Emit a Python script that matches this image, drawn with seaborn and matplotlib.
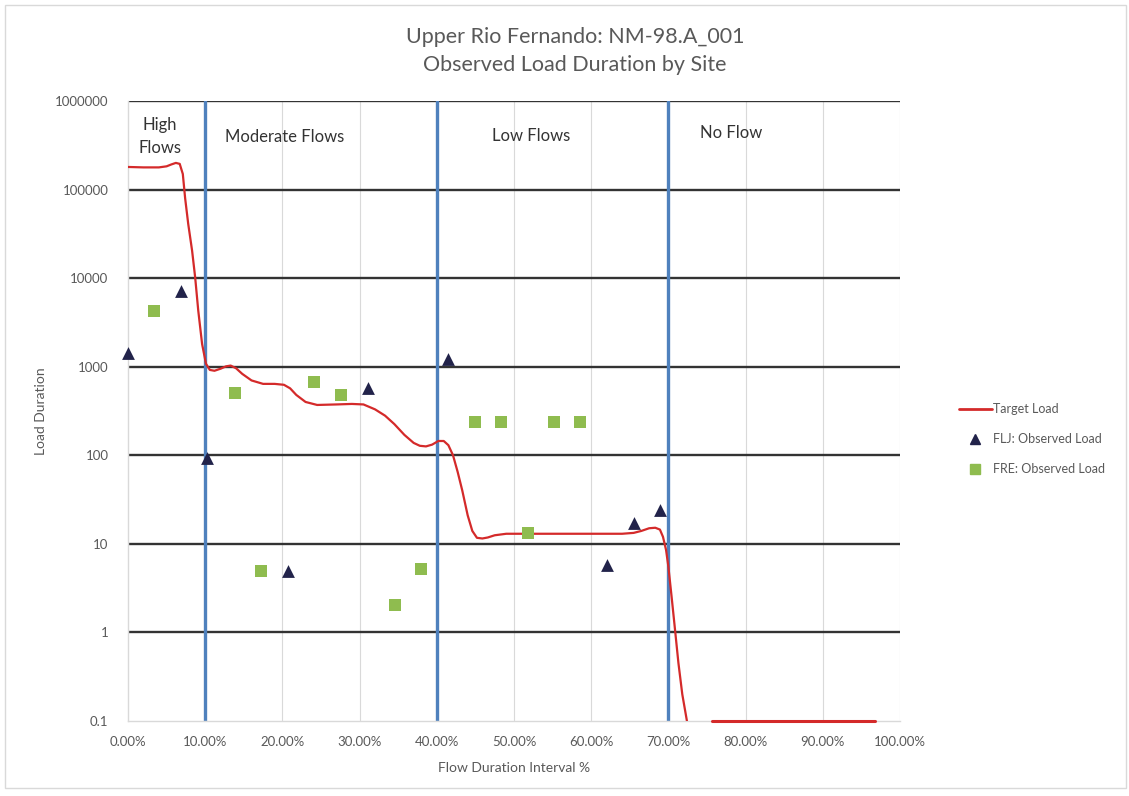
"""Observed load duration by site - Upper Rio Fernando."""

import numpy as np
import pandas as pd
import seaborn as sns
import matplotlib.pyplot as plt
from matplotlib.patches import Rectangle
from matplotlib.lines import Line2D

#########################################################################################
#########################################################################################

title = 'Upper Rio Fernando: NM-98.A_001\nObserved Load Duration by Site'

# Target load curve (flow interval %, load)
target_x = [0, 2, 4, 5, 5.6, 6.2, 6.7, 7.1, 7.4, 7.8, 8.3, 8.7, 9.1, 9.6, 10.1, 10.6,
            11.2, 12, 12.7, 13.3, 14, 14.8, 16, 17.5, 19, 20.2, 21, 21.8, 23, 24.5,
            27, 29, 30.5, 32, 33.3, 34.5, 35.8, 37, 37.8, 38.6, 39.4, 40.2, 40.9,
            41.5, 42.1, 42.7, 43.3, 44, 44.6, 45.2, 45.9, 46.6, 47.5, 49, 50, 55, 60,
            64, 65.5, 66.5, 67.5, 68.3, 68.9, 69.3, 69.7, 70, 70.4, 70.8, 71.3, 71.8,
            72.4]
target_y = [180000, 178000, 178000, 183000, 192000, 200000, 195000, 150000, 80000,
            41000, 20500, 10200, 4300, 1800, 1080, 920, 900, 950, 1010, 1030, 960, 830,
            700, 640, 640, 625, 570, 480, 400, 370, 375, 380, 375, 330, 280, 225, 170,
            138, 128, 126, 132, 145, 145, 130, 100, 65, 40, 21, 14, 11.7, 11.5, 11.8,
            12.5, 13, 13, 13, 13, 13, 13.3, 14, 15, 15.2, 14.5, 12, 8.5, 5.5, 2.6, 1.2,
            0.45, 0.2, 0.1]

# No flow tail of the target load
tail_x = [75.6, 80, 90, 96.7]
tail_y = [0.1, 0.1, 0.1, 0.1]

# Observed loads
flj_x = [0, 6.9, 10.2, 20.7, 31.1, 41.5, 62.0, 65.5, 68.9]
flj_y = [1440, 7200, 92, 5, 580, 1230, 5.8, 17.3, 24]

fre_x = [3.4, 13.9, 17.2, 24.1, 27.6, 34.6, 38.0, 45.0, 48.3, 51.8, 55.2, 58.5]
fre_y = [4290, 508, 5, 677, 483, 2.05, 5.2, 238, 238, 13.3, 238, 238]

# Flow regime boundaries and labels
bounds = [10, 40, 70]
zones = ['High\nFlows', 'Moderate Flows', 'Low Flows', 'No Flow']
zone_x = [4.1, 20.3, 52.2, 78.1]
zone_y = [400000, 390000, 400000, 435000]

x_ticks = [0, 10, 20, 30, 40, 50, 60, 70, 80, 90, 100]
y_ticks = [0.1, 1, 10, 100, 1000, 10000, 100000, 1000000]
y_labels = ['0.1', '1', '10', '100', '1000', '10000', '100000', '1000000']

#########################################################################################

sns.set_theme(style='white')
plt.rcParams['font.family'] = ['Lato', 'DejaVu Sans']

TXT = '#595959'
RED = '#d42a2a'
BLUE = '#4f81bd'
NAVY = '#22234a'
GREEN = '#8fbc4f'

f = plt.figure(figsize=(11.29, 7.96), dpi=100)
ax = f.add_axes([128 / 1129, 75 / 796, 772 / 1129, 620 / 796])

ax.set_yscale('log')
ax.set_xlim(0, 100)
ax.set_ylim(0.1, 1000000)

# Grid
for v in x_ticks[1:]:
    ax.axvline(v, color='#d9d9d9', lw=0.8, zorder=0)
for v in y_ticks[1:]:
    ax.axhline(v, color='#333333', lw=1.7, zorder=1)
for v in bounds:
    ax.axvline(v, color=BLUE, lw=2.4, zorder=2)

df_t = pd.DataFrame({'x': target_x, 'y': target_y})
df_tail = pd.DataFrame({'x': tail_x, 'y': tail_y})
sns.lineplot(data=df_t, x='x', y='y', color=RED, lw=1.6, ax=ax, zorder=3,
             estimator=None, sort=False, solid_joinstyle='round')
sns.lineplot(data=df_tail, x='x', y='y', color=RED, lw=2.2, ax=ax, zorder=3,
             estimator=None, sort=False, clip_on=False)

df_flj = pd.DataFrame({'x': flj_x, 'y': flj_y})
df_fre = pd.DataFrame({'x': fre_x, 'y': fre_y})
sns.scatterplot(data=df_flj, x='x', y='y', marker='^', s=85, color=NAVY,
                edgecolor=NAVY, linewidth=0, ax=ax, zorder=4, clip_on=False)
sns.scatterplot(data=df_fre, x='x', y='y', marker='s', s=80, color=GREEN,
                edgecolor=GREEN, linewidth=0, ax=ax, zorder=4, clip_on=False)

for lab, zx, zy in zip(zones, zone_x, zone_y):
    ax.text(zx, zy, lab, ha='center', va='center', fontsize=12, color='#333333',
            linespacing=1.55, zorder=5)

# Axes
ax.set_xticks(x_ticks)
ax.set_xticklabels(['%.2f%%' % v for v in x_ticks])
ax.set_yticks(y_ticks)
ax.set_yticklabels(y_labels)
ax.minorticks_off()
ax.tick_params(axis='both', length=0, labelsize=9.5, labelcolor=TXT)
ax.tick_params(axis='y', pad=14)
ax.tick_params(axis='x', pad=11)

ax.set_xlabel('Flow Duration Interval %', fontsize=10, color=TXT, labelpad=10)
ax.set_ylabel('Load Duration', fontsize=10, color=TXT, labelpad=6)

sns.despine(ax=ax, top=True, right=True)
for side in ['left', 'bottom']:
    ax.spines[side].set_color('#d9d9d9')
    ax.spines[side].set_linewidth(1)

f.text(575 / 1129, 1 - 51 / 796, title, ha='center', va='center', fontsize=15.5,
       color=TXT, linespacing=1.45)

# Legend
handles = [Line2D([], [], color=RED, lw=2),
           Line2D([], [], color=NAVY, marker='^', ls='none', markersize=7),
           Line2D([], [], color=GREEN, marker='s', ls='none', markersize=7)]
labels = ['Target Load', 'FLJ: Observed Load', 'FRE: Observed Load']
leg = f.legend(handles, labels, loc='center left', bbox_to_anchor=(954 / 1129, 1 - 439 / 796),
               frameon=False, fontsize=9, handlelength=2.6, handletextpad=0.15,
               labelspacing=1.45, borderaxespad=0)
for t in leg.get_texts():
    t.set_color(TXT)

f.patches.append(Rectangle((0.004, 0.01), 0.993, 0.984, transform=f.transFigure,
                           fill=False, edgecolor='#d9d9d9', lw=1))

f.savefig('out.png', dpi=100)
